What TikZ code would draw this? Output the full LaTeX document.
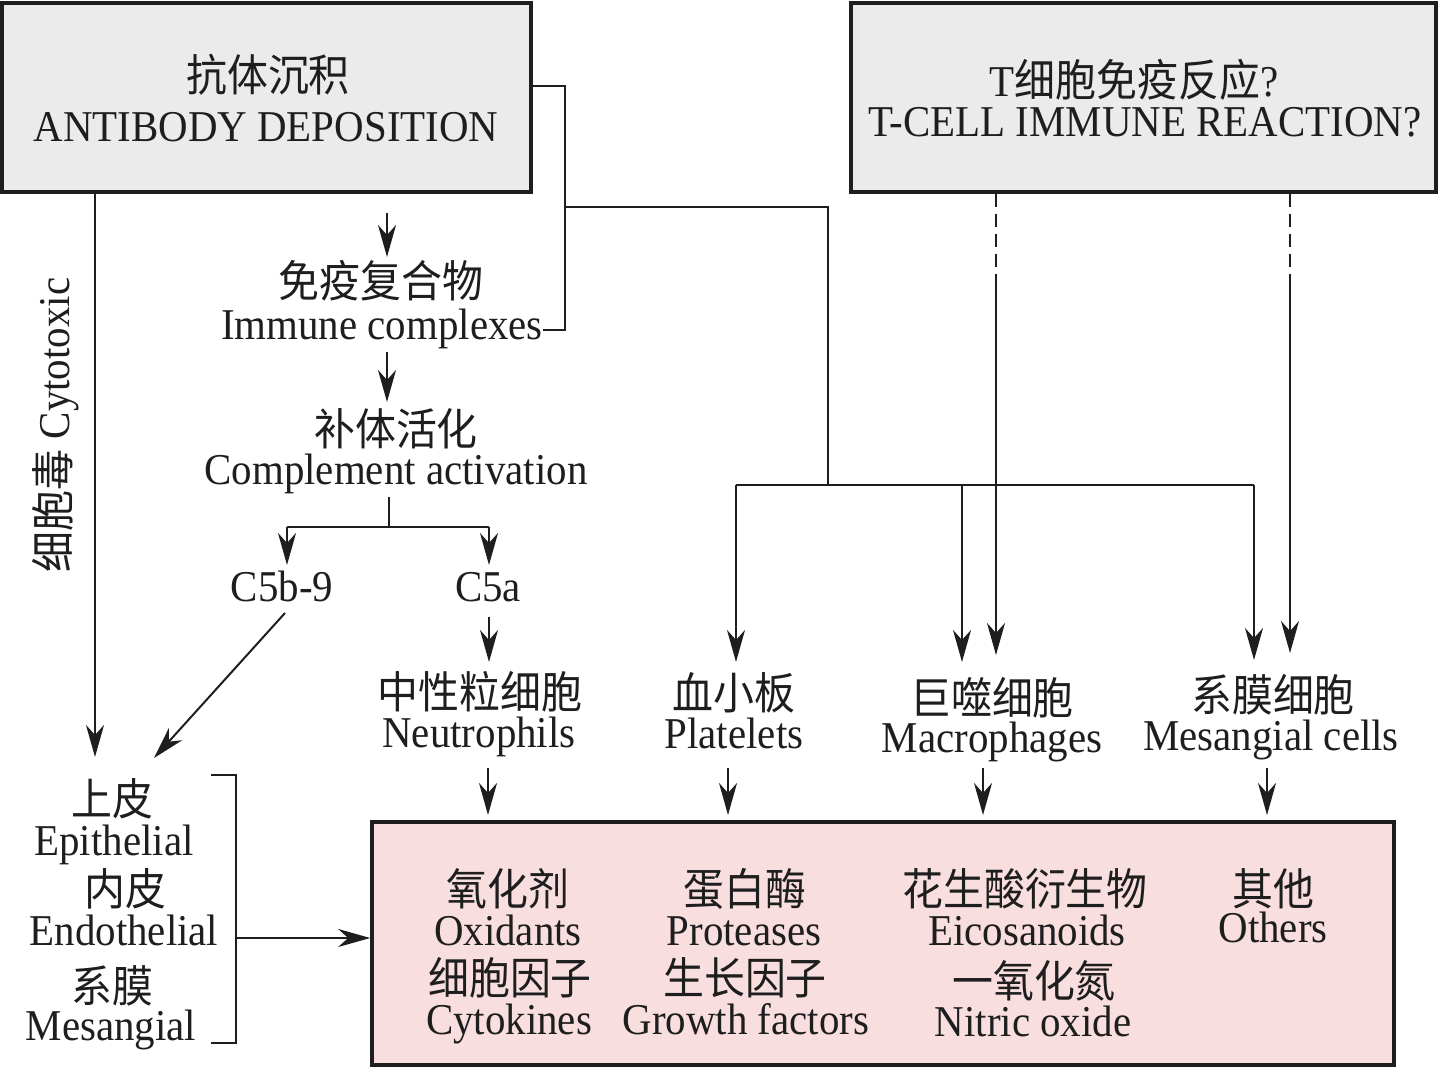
\documentclass[tikz,border=0pt]{standalone}
\usepackage{fontspec}
\setmainfont{Liberation Serif}[FakeStretch=0.93]
\newfontfamily\cjk{Noto Sans CJK SC}[FakeStretch=0.93]
\usetikzlibrary{arrows.meta}
\definecolor{boxgray}{RGB}{235,235,235}
\definecolor{boxpink}{RGB}{249,222,224}
\definecolor{ink}{RGB}{30,30,30}
\tikzset{
  lbl/.style={inner sep=0pt, anchor=base, text=ink, font=\fontsize{22}{24}\selectfont},
  cn/.style={lbl, font=\fontsize{22}{24}\selectfont\cjk},
  box/.style={draw=ink, line width=1.8pt, inner sep=0pt},
  conn/.style={draw=ink, line width=1pt},
  arr/.style={conn, -{Stealth[length=16pt,width=9pt,inset=5pt]}},
  dsh/.style={conn, dash pattern=on 6.5pt off 3.5pt},
}
\begin{document}
\begin{tikzpicture}[x=0.5pt,y=-0.5pt]
\useasboundingbox (0,0) rectangle (1439,1068);
% boxes
\node[box, fill=boxgray, minimum width=264.5pt, minimum height=94.5pt] (B1) at (266.5,97.5) {};
\node[box, fill=boxgray, minimum width=292.5pt, minimum height=94.5pt] (B2) at (1143.5,97.5) {};
\node[box, fill=boxpink, minimum width=511pt, minimum height=121.5pt] (P) at (883,943.5) {};
% box texts
\node[cn] (ab1) at (268,92) {抗体沉积};
\node[lbl] (ab2) at (266,142) {ANTIBODY DEPOSITION};
\node[lbl] (tc1) at (1134,97) {T{\cjk 细胞免疫反应}?};
\node[lbl] (tc2) at (1145,137) {T-CELL IMMUNE REACTION?};
% middle labels
\node[cn] (imm1) at (381,298) {免疫复合物};
\node[lbl] (imm2) at (382,340) {Immune complexes};
\node[cn] (comp1) at (396,446) {补体活化};
\node[lbl] (comp2) at (396,485) {Complement activation};
\node[lbl] (c5b) at (282,602) {C5b-9};
\node[lbl] (c5a) at (488,602) {C5a};
\node[cn] (neu1) at (480,708) {中性粒细胞};
\node[lbl] (neu2) at (479,747) {Neutrophils};
\node[cn] (plt1) at (734,709) {血小板};
\node[lbl] (plt2) at (734,748) {Platelets};
\node[cn] (mac1) at (992,714) {巨噬细胞};
\node[lbl] (mac2) at (992,752) {Macrophages};
\node[cn] (mes1) at (1273,711) {系膜细胞};
\node[lbl] (mes2) at (1271,750) {Mesangial cells};
% left labels
\node[cn] (epi1) at (112,815) {上皮};
\node[lbl] (epi2) at (114,855) {Epithelial};
\node[cn] (endo1) at (125,905) {内皮};
\node[lbl] (endo2) at (124,945) {Endothelial};
\node[cn] (mg1) at (112,1002) {系膜};
\node[lbl] (mg2) at (111,1040) {Mesangial};
\node[lbl, anchor=center, rotate=90] (cyto) at (56,425) {{\cjk 细胞毒} Cytotoxic};
% pink box contents
\node[cn] (ox1) at (508,905) {氧化剂};
\node[lbl] (ox2) at (508,945) {Oxidants};
\node[cn] (cy1) at (510,994) {细胞因子};
\node[lbl] (cy2) at (509,1034) {Cytokines};
\node[cn] (pr1) at (745,905) {蛋白酶};
\node[lbl] (pr2) at (744,945) {Proteases};
\node[cn] (gf1) at (745,994) {生长因子};
\node[lbl] (gf2) at (746,1034) {Growth factors};
\node[cn] (ei1) at (1025,905) {花生酸衍生物};
\node[lbl] (ei2) at (1027,945) {Eicosanoids};
\node[cn] (no1) at (1034,997) {一氧化氮};
\node[lbl] (no2) at (1033,1036) {Nitric oxide};
\node[cn] (ot1) at (1273,905) {其他};
\node[lbl] (ot2) at (1273,942) {Others};
% coordinates
\coordinate (r1) at (565,86);
\coordinate (r2) at (565,330);
\coordinate (r3) at (565,207);
\coordinate (r4) at (828,207);
\coordinate (r5) at (828,485);
\coordinate (busL) at (736,485);
\coordinate (busM) at (962,485);
\coordinate (busR) at (1254,485);
% connectors
\draw[conn] (B1.east |- r1) -- (r1) -- (r2) -- (imm2.east |- r2);
\draw[conn] (r3) -- (r4) -- (r5);
\draw[conn] (busL) -- (busR);
\draw[arr] (busL) -- (736,662);
\draw[arr] (busM) -- (962,662);
\draw[arr] (busR) -- (1254,660);
\draw[dsh] (B2.south -| 996,0) -- (996,280);
\draw[arr] (996,280) -- (996,655);
\draw[dsh] (B2.south -| 1290,0) -- (1290,280);
\draw[arr] (1290,280) -- (1290,653);
\draw[arr] (387,213) -- (387,257);
\draw[arr] (387,352) -- (387,402);
\draw[conn] (389,497) -- (389,527);
\draw[conn] (287,527) -- (489,527);
\draw[arr] (287,527) -- (287,565);
\draw[arr] (489,527) -- (489,565);
\draw[arr] (285,613) -- (154,758);
\draw[arr] (489,617) -- (489,662);
\draw[arr] (B1.south -| 95,0) -- (95,757);
\draw[arr] (488,768) -- (488,815);
\draw[arr] (728,768) -- (728,815);
\draw[arr] (983,768) -- (983,815);
\draw[arr] (1267,768) -- (1267,815);
\draw[conn] (211,775) -- (236,775) -- (236,1043) -- (211,1043);
\draw[arr] (236,938) -- (P.west |- 0,938);
\end{tikzpicture}
\end{document}
